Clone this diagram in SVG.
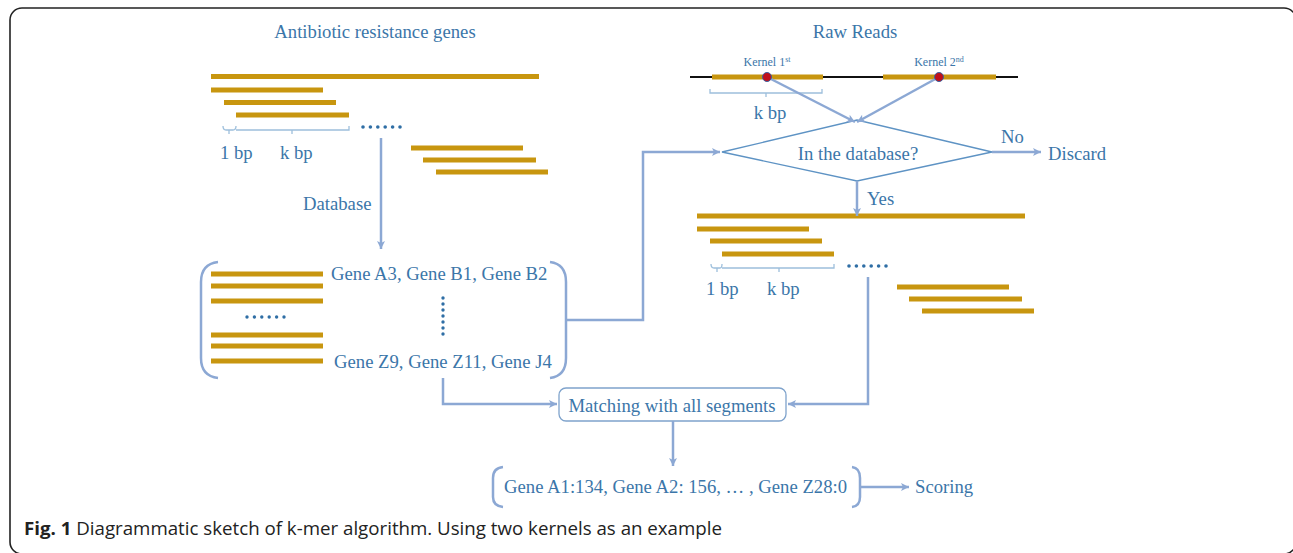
<svg xmlns="http://www.w3.org/2000/svg" width="1293" height="553" viewBox="0 0 1293 553">
<style>
.t{font-family:"Liberation Serif","Times New Roman",serif;font-size:18.7px;fill:#3b76a9}
.tm{text-anchor:middle}
.k{font-family:"Liberation Serif","Times New Roman",serif;font-size:12px;fill:#3b76a9;text-anchor:middle}
.bar{stroke:#c8960f;stroke-width:5;fill:none}
.con{stroke:#8ca8d4;stroke-width:2.5;fill:none}
.br{stroke:#9dbfdc;stroke-width:1.3;fill:none}
.dot{fill:#2f6ea5}
.cap{font-family:"Open Sans","Liberation Sans",sans-serif;font-size:18px;fill:#222}
</style>
<defs>
<marker id="ah" viewBox="0 0 10 10" refX="10" refY="5" markerUnits="userSpaceOnUse" markerWidth="10" markerHeight="8" orient="auto">
<path d="M0,0 L10,5 L0,10 L2.5,5 z" fill="#8ca8d4"/>
</marker>
</defs>
<rect x="10" y="8" width="1286" height="546" rx="12" fill="none" stroke="#222" stroke-width="1.6"/>

<g id="genes-db">
<text class="t tm" x="375" y="38">Antibiotic resistance genes</text>
<line class="bar" x1="211" y1="76.5" x2="539" y2="76.5"/>
<line class="bar" x1="211" y1="90" x2="323" y2="90"/>
<line class="bar" x1="224" y1="102.5" x2="336" y2="102.5"/>
<line class="bar" x1="236" y1="115" x2="349" y2="115"/>
<path class="br" d="M223,126 Q223,130 226,130 L229,130 L229,134 M229,130 L233,130 Q236,130 236,126 M236,130 L349,130 L349,126 M292,130 L292,134"/>
<text class="t" x="220" y="159">1 bp</text>
<text class="t" x="280" y="159">k bp</text>
<g class="dot"><circle cx="363" cy="127" r="1.8"/><circle cx="370.4" cy="127" r="1.8"/><circle cx="377.8" cy="127" r="1.8"/><circle cx="385.2" cy="127" r="1.8"/><circle cx="392.6" cy="127" r="1.8"/><circle cx="400" cy="127" r="1.8"/></g>
<line class="bar" x1="411" y1="148" x2="523" y2="148"/>
<line class="bar" x1="423" y1="160" x2="536" y2="160"/>
<line class="bar" x1="436" y1="172" x2="548" y2="172"/>
<text class="t" x="303" y="210">Database</text>
</g>

<g id="gene-list">
<path class="con" d="M218,262 Q201,264 201,282 L201,358 Q201,376 218,378"/>
<path class="con" d="M550,262 Q566,264 566,282 L566,358 Q566,376 550,378"/>
<line class="bar" x1="211" y1="274" x2="323" y2="274"/>
<line class="bar" x1="211" y1="286" x2="323" y2="286"/>
<line class="bar" x1="211" y1="301" x2="323" y2="301"/>
<g class="dot"><circle cx="247" cy="317" r="1.7"/><circle cx="254.4" cy="317" r="1.7"/><circle cx="261.8" cy="317" r="1.7"/><circle cx="269.2" cy="317" r="1.7"/><circle cx="276.6" cy="317" r="1.7"/><circle cx="284" cy="317" r="1.7"/></g>
<line class="bar" x1="211" y1="335" x2="323" y2="335"/>
<line class="bar" x1="211" y1="346" x2="323" y2="346"/>
<line class="bar" x1="211" y1="361" x2="323" y2="361"/>
<text class="t" x="331" y="280">Gene A3, Gene B1, Gene B2</text>
<g class="dot"><circle cx="443" cy="298" r="1.7"/><circle cx="443" cy="304" r="1.7"/><circle cx="443" cy="310" r="1.7"/><circle cx="443" cy="316" r="1.7"/><circle cx="443" cy="322" r="1.7"/><circle cx="443" cy="328" r="1.7"/><circle cx="443" cy="334" r="1.7"/></g>
<text class="t" x="334" y="368">Gene Z9, Gene Z11, Gene J4</text>
</g>

<g id="raw-reads">
<text class="t tm" x="855" y="38">Raw Reads</text>
<line x1="690" y1="77" x2="1018" y2="77" stroke="#111" stroke-width="2"/>
<line class="bar" x1="712" y1="77" x2="823" y2="77"/>
<line class="bar" x1="883" y1="77" x2="996" y2="77"/>
<text class="k" x="767" y="66">Kernel 1<tspan font-size="8" dy="-4">st</tspan></text>
<text class="k" x="939" y="66">Kernel 2<tspan font-size="8" dy="-4">nd</tspan></text>
<path class="br" d="M710,89 L710,93 L822,93 L822,89 M766,93 L766,97"/>
<text class="t tm" x="770" y="119">k bp</text>
</g>

<g id="decision">
<polygon points="722,152 857,120 992,152 857,181" fill="none" stroke="#5e93c4" stroke-width="1.3"/>
<text class="t tm" x="858" y="160">In the database?</text>
<text class="t" x="1001" y="143">No</text>
<text class="t" x="1048" y="160">Discard</text>
<text class="t" x="867" y="205">Yes</text>
</g>

<g id="read-kmers">
<line class="bar" x1="697" y1="216" x2="1025" y2="216"/>
<line class="bar" x1="697" y1="229" x2="809" y2="229"/>
<line class="bar" x1="710" y1="241" x2="822" y2="241"/>
<line class="bar" x1="722" y1="254" x2="834" y2="254"/>
<path class="br" d="M711,264 Q711,268 714,268 L717,268 L717,272 M717,268 L720,268 Q722,268 722,264 M722,268 L834,268 L834,264 M779,268 L779,272"/>
<text class="t" x="706" y="295">1 bp</text>
<text class="t" x="767" y="295">k bp</text>
<g class="dot"><circle cx="849" cy="266" r="1.8"/><circle cx="856.4" cy="266" r="1.8"/><circle cx="863.8" cy="266" r="1.8"/><circle cx="871.2" cy="266" r="1.8"/><circle cx="878.6" cy="266" r="1.8"/><circle cx="886" cy="266" r="1.8"/></g>
<line class="bar" x1="897" y1="287" x2="1009" y2="287"/>
<line class="bar" x1="909" y1="299" x2="1022" y2="299"/>
<line class="bar" x1="922" y1="311" x2="1034" y2="311"/>
</g>

<g id="matching">
<rect x="559" y="388" width="227" height="33" rx="7" fill="#fff" stroke="#7fa3cc" stroke-width="1.3"/>
<text class="t tm" x="672" y="412">Matching with all segments</text>
</g>

<g id="scores">
<path class="con" d="M503,467 Q493,468 493,478 L493,497 Q493,506 503,507"/>
<path class="con" d="M852,467 Q860,468 860,478 L860,497 Q860,506 852,507"/>
<text class="t" x="504" y="493">Gene A1:134, Gene A2: 156, … , Gene Z28:0</text>
</g>

<g id="scoring">
<text class="t" x="915" y="493">Scoring</text>
</g>

<g id="connectors">
<line class="con" x1="381" y1="138" x2="381" y2="249" marker-end="url(#ah)"/>
<line class="con" x1="767" y1="77" x2="855" y2="122" marker-end="url(#ah)"/>
<line class="con" x1="939" y1="77" x2="857" y2="122" marker-end="url(#ah)"/>
<path class="con" d="M566,320 L643,320 L643,152 L720,152" marker-end="url(#ah)"/>
<line class="con" x1="992" y1="152" x2="1041" y2="152" marker-end="url(#ah)"/>
<line class="con" x1="857" y1="181" x2="857" y2="216" marker-end="url(#ah)"/>
<path class="con" d="M443,378 L443,404 L557,404" marker-end="url(#ah)"/>
<path class="con" d="M868,277 L868,404 L788,404" marker-end="url(#ah)"/>
<line class="con" x1="673" y1="421" x2="673" y2="466" marker-end="url(#ah)"/>
<line class="con" x1="860" y1="487" x2="909" y2="487" marker-end="url(#ah)"/>
</g>

<g id="kernels">
<circle cx="767" cy="77" r="4.5" fill="#c0101a" stroke="#3b5fa0" stroke-width="1"/>
<circle cx="939" cy="77" r="4.5" fill="#c0101a" stroke="#3b5fa0" stroke-width="1"/>
</g>

<text class="cap" x="24" y="535" textLength="698" lengthAdjust="spacingAndGlyphs"><tspan font-weight="bold">Fig. 1</tspan> Diagrammatic sketch of k-mer algorithm. Using two kernels as an example</text>
</svg>
